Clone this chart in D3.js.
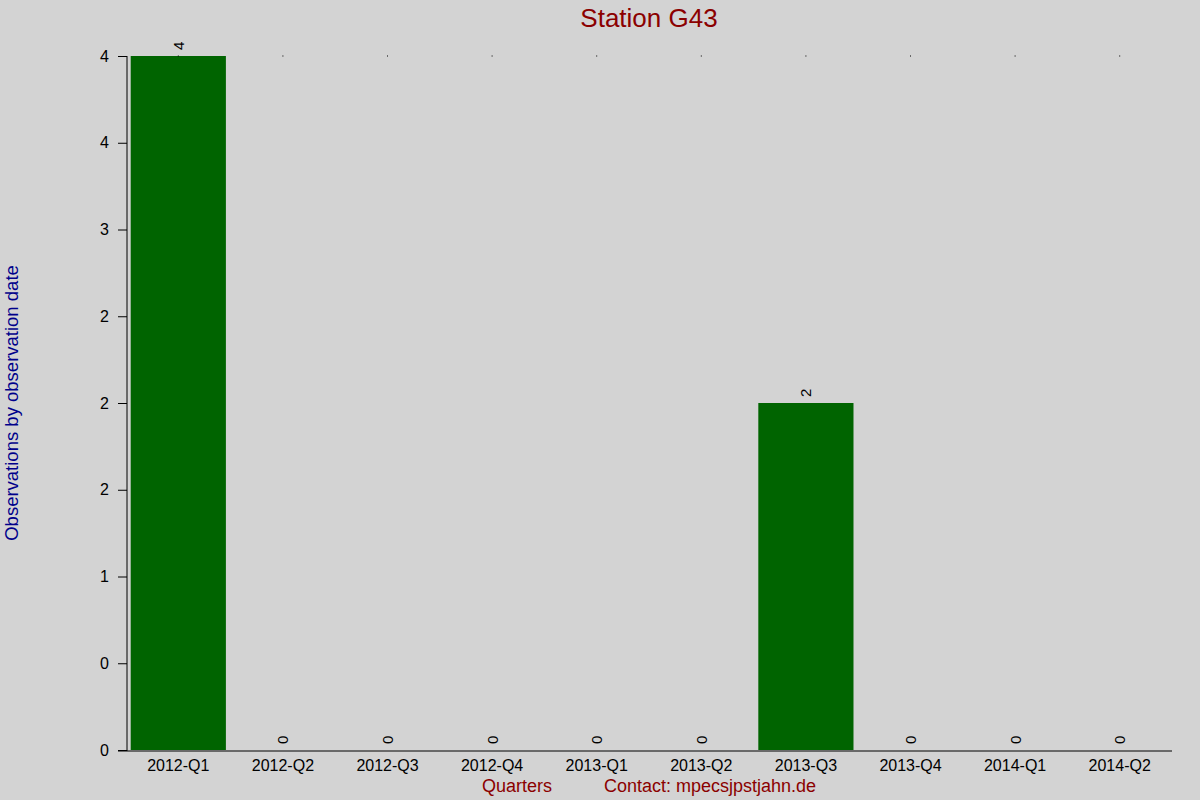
<!DOCTYPE html>
<html><head><meta charset="utf-8">
<script src="https://cdn.jsdelivr.net/npm/d3@7"></script>
<style>html,body{margin:0;padding:0;background:#d3d3d3;}svg{display:block;font-family:"Liberation Sans",Arial,sans-serif;}</style>
</head><body>
<script>
const categories = ["2012-Q1","2012-Q2","2012-Q3","2012-Q4","2013-Q1","2013-Q2","2013-Q3","2013-Q4","2014-Q1","2014-Q2"];
const values = [4,0,0,0,0,0,2,0,0,0];
const yTickValues = [0,0.5,1,1.5,2,2.5,3,3.5,4];
const yTickLabels = ["0","0","1","2","2","2","3","4","4"];
const title = "Station G43";
const yLabel = "Observations by observation date";
const xLabel = "Quarters";
const contact = "Contact: mpecsjpstjahn.de";

const W = 1200, H = 800;
const svg = d3.select("body").append("svg").attr("width", W).attr("height", H);
svg.append("rect").attr("width", W).attr("height", H).attr("fill", "#d3d3d3");

const x = d3.scaleBand().domain(categories).range([126, 1172]).paddingInner(0.09).paddingOuter(0.045);
const y = d3.scaleLinear().domain([0, 4]).range([750, 56]);

// bars
svg.selectAll("rect.bar").data(values).enter().append("rect")
  .attr("class","bar")
  .attr("x", (d,i) => x(categories[i]))
  .attr("width", x.bandwidth())
  .attr("y", d => y(d))
  .attr("height", d => y(0) - y(d))
  .attr("fill", "#006400");

// tiny dots at top
svg.selectAll("rect.dot").data(categories).enter().append("rect")
  .attr("class","dot")
  .attr("x", d => x(d) + x.bandwidth()/2 - 0.5)
  .attr("y", y(4) - 0.5)
  .attr("width", 1).attr("height", 1)
  .attr("fill", "#000");

// value labels
svg.selectAll("text.val").data(values).enter().append("text")
  .attr("class","val")
  .attr("transform", (d,i) => `translate(${x(categories[i]) + x.bandwidth()/2 + 5.5},${y(d) - 6}) rotate(-90)`)
  .attr("font-size", 15)
  .attr("fill", "#000")
  .text(d => d);

// y axis
const yAxis = d3.axisLeft(y).tickValues(yTickValues).tickSize(9).tickPadding(9)
  .tickFormat((d,i) => yTickLabels[i]);
const gy = svg.append("g").attr("transform", "translate(127,0)").call(yAxis);
gy.select(".domain").attr("d", `M0,${y(4)}V${y(0)+1}`).attr("stroke","#000");
gy.selectAll("text").attr("font-size", 16).attr("fill","#000").attr("font-family","Liberation Sans, Arial, sans-serif");

// x axis
const xAxis = d3.axisBottom(x).tickSize(0).tickPadding(9);
const gx = svg.append("g").attr("transform", "translate(0,751)").call(xAxis);
gx.select(".domain").attr("d", "M118,0H1172").attr("stroke","#000");
gx.selectAll("text").attr("font-size", 16).attr("fill","#000").attr("font-family","Liberation Sans, Arial, sans-serif");

// title
svg.append("text").attr("x", 649).attr("y", 27).attr("text-anchor","middle")
  .attr("font-size", 26).attr("fill","#8b0000").text(title);

// y label
svg.append("text").attr("transform", "translate(18,403) rotate(-90)").attr("text-anchor","middle")
  .attr("font-size", 18.5).attr("fill","#00008b").text(yLabel);

// x label and contact
svg.append("text").attr("x", 517).attr("y", 792).attr("text-anchor","middle")
  .attr("font-size", 18).attr("fill","#8b0000").text(xLabel);
svg.append("text").attr("x", 710).attr("y", 792).attr("text-anchor","middle")
  .attr("font-size", 18).attr("fill","#8b0000").text(contact);
</script>
</body></html>
